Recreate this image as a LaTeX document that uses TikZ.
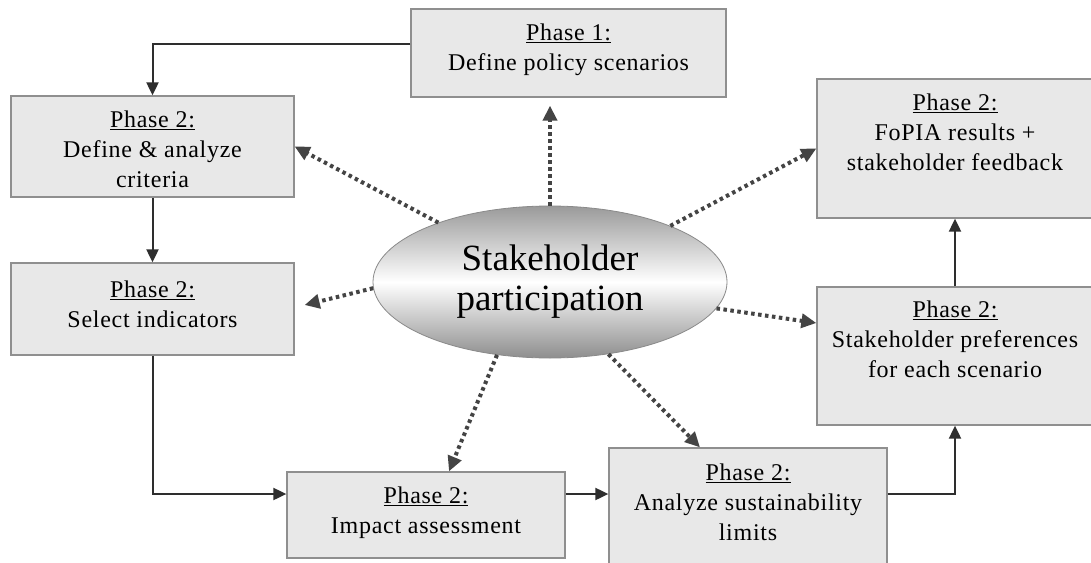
\documentclass[tikz,border=0pt]{standalone}
\usepackage{fontspec}
\setmainfont{Liberation Serif}
\newfontfamily\boxfont{Liberation Serif}[LetterSpace=3]
\usetikzlibrary{arrows.meta,shapes.geometric,calc}
\definecolor{boxfill}{HTML}{E8E8E8}
\definecolor{boxline}{HTML}{8F8F8F}
\definecolor{flowc}{HTML}{2E2E2E}
\definecolor{dotc}{HTML}{444444}
\definecolor{elltop}{HTML}{9A9A9A}
\definecolor{ellbot}{HTML}{8E8E8E}
\definecolor{ellline}{HTML}{8A8A8A}
\begin{document}
\begin{tikzpicture}[x=1pt,y=-1pt,
  box/.style={draw=boxline, fill=boxfill, line width=1.3pt, rectangle, inner sep=0pt},
  btext/.style={font=\boxfont\fontsize{24}{30}\selectfont, align=center, inner sep=0pt, anchor=north},
  flow/.style={draw=flowc, line width=2pt, -{Triangle[length=13pt,width=12pt]}},
  part/.style={draw=dotc, line width=4pt, dash pattern=on 3.5pt off 3.5pt, -{Triangle[length=15pt,width=14pt]}}]
\useasboundingbox (0,0) rectangle (1091,562);
\clip (0,0) rectangle (1091,562);
\fill[white] (0,0) rectangle (1091,562);
% boxes
\node[box, minimum width=315pt, minimum height=88pt] (p1) at (568.5,53) {};
\node[box, minimum width=283pt, minimum height=101pt] (def) at (152.5,146.5) {};
\node[box, minimum width=283pt, minimum height=92pt] (sel) at (152.5,309) {};
\node[box, minimum width=278pt, minimum height=86pt] (imp) at (426,515) {};
\node[box, minimum width=278pt, minimum height=127pt] (ana) at (748,511.5) {};
\node[box, minimum width=276pt, minimum height=139pt] (fop) at (955,148.5) {};
\node[box, minimum width=276pt, minimum height=138pt] (pref) at (955,356) {};
% texts
\node[btext] (p1t) at (568.5,19) {\strut\underline{Phase 1:}\\Define policy scenarios};
\node[btext] (deft) at (152.5,106) {\strut\underline{Phase 2:}\\Define \& analyze\\criteria};
\node[btext] (selt) at (152.5,276) {\strut\underline{Phase 2:}\\Select indicators};
\node[btext] (impt) at (426,482) {\strut\underline{Phase 2:}\\Impact assessment};
\node[btext] (anat) at (748,459) {\strut\underline{Phase 2:}\\Analyze sustainability\\limits};
\node[btext] (fopt) at (955,89) {\strut\underline{Phase 2:}\\FoPIA results +\\stakeholder feedback};
\node[btext] (preft) at (955,296) {\strut\underline{Phase 2:}\\Stakeholder preferences\\for each scenario};
% ellipse
\node[ellipse, minimum width=354pt, minimum height=152pt, draw=ellline, line width=0.8pt,
      top color=elltop, bottom color=ellbot, middle color=white, inner sep=0pt,
      align=center, font=\fontsize{37}{40}\selectfont] (ell) at (550,282) {Stakeholder\\participation};
% solid flow
\draw[flow] ([yshift=9pt]p1.west) -| (def.north);
\draw[flow] (def.south) -- (sel.north);
\draw[flow] (sel.south) |- ([yshift=21pt]imp.west);
\coordinate (m1) at ([yshift=21pt]imp.east);
\draw[flow] (m1) -- (m1 -| ana.west);
\draw[flow] ([yshift=17.5pt]ana.east) -| (pref.south);
\draw[flow] (pref.north) -- (fop.south);
% dotted participation
\draw[part] (ell.north) -- ($(ell.north |- p1.south)+(0,8)$);
\draw[part] (ell.152) -- (def.east);
\draw[part] (ell.182) -- ([xshift=10pt,yshift=4pt]sel.east);
\draw[part] (ell.234) -- ([xshift=23pt]imp.north);
\draw[part] (ell.309) -- ([xshift=-48pt]ana.north);
\draw[part] (ell.351) -- ([yshift=33pt]pref.west);
\draw[part] (ell.25) -- (fop.west);
\end{tikzpicture}
\end{document}
